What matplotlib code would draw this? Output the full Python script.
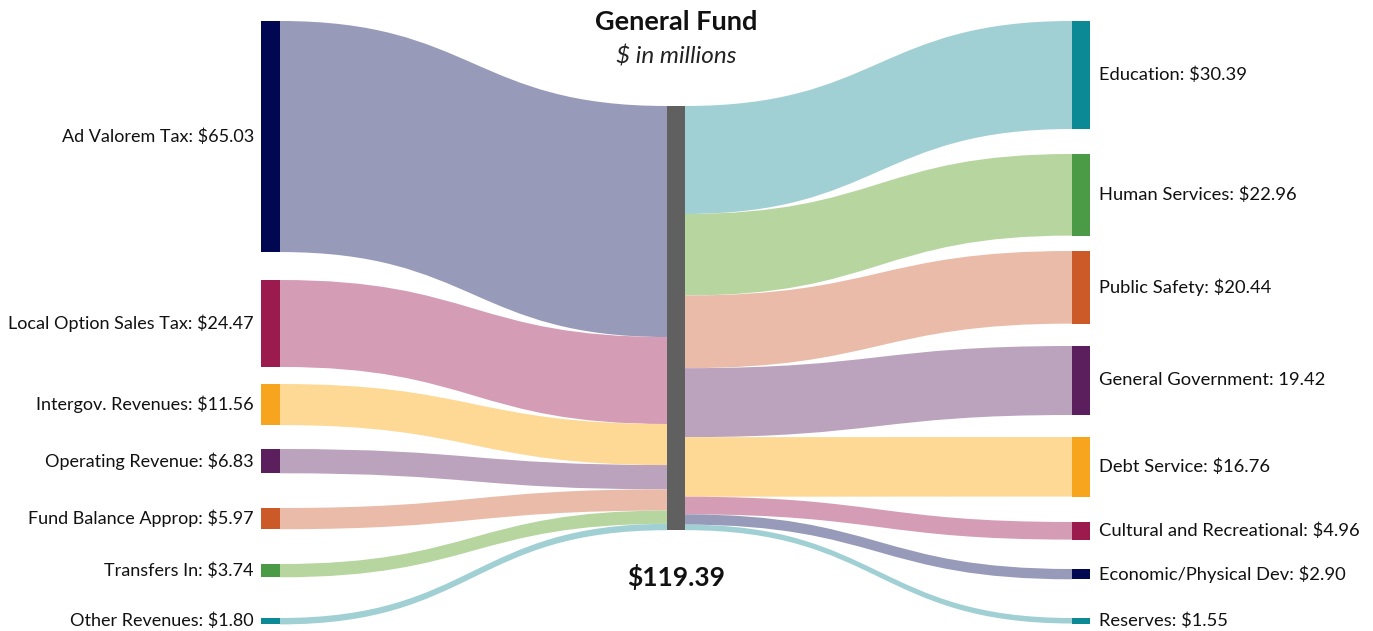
import matplotlib.pyplot as plt
from matplotlib.path import Path
from matplotlib.patches import PathPatch, Rectangle

# Data ($ in millions)
sources = ["Ad Valorem Tax", "Local Option Sales Tax", "Intergov. Revenues",
           "Operating Revenue", "Fund Balance Approp", "Transfers In", "Other Revenues"]
source_values = [65.03, 24.47, 11.56, 6.83, 5.97, 3.74, 1.80]

uses = ["Education", "Human Services", "Public Safety", "General Government",
        "Debt Service", "Cultural and Recreational", "Economic/Physical Dev", "Reserves"]
use_values = [30.39, 22.96, 20.44, 19.42, 16.76, 4.96, 2.90, 1.55]
use_labels = ["Education: $30.39", "Human Services: $22.96", "Public Safety: $20.44",
              "General Government: 19.42", "Debt Service: $16.76",
              "Cultural and Recreational: $4.96", "Economic/Physical Dev: $2.90",
              "Reserves: $1.55"]
total = 119.39

# colours (node, flow)
src_dark = ["#020751", "#9b1b4f", "#f7a51f", "#5a1f5c", "#cc5a29", "#4b9a45", "#0b8a96"]
src_light = ["#979ab8", "#d59cb5", "#fdd995", "#bba3bd", "#e9bba8", "#b7d59f", "#a0cfd4"]
use_dark = ["#0b8a96", "#4b9a45", "#cc5a29", "#5a1f5c", "#f7a51f", "#9b1b4f", "#020751", "#0b8a96"]
use_light = ["#a0cfd4", "#b7d59f", "#e9bba8", "#bba3bd", "#fdd995", "#d59cb5", "#979ab8", "#a0cfd4"]

# layout in pixel space
W, H = 1373, 631
scale = 3.553  # px per $M
src_tops = [21, 280, 384, 449, 508, 564, 618]
use_tops = [21, 154, 251, 346, 437, 522, 569, 618]
left_x0, left_x1 = 261, 280
mid_x0, mid_x1 = 667, 685
right_x0, right_x1 = 1072, 1090
mid_top = 106


def flow(ax, xa, ya, xb, yb, h, color):
    xm = (xa + xb) / 2
    verts = [(xa, ya), (xm, ya), (xm, yb), (xb, yb),
             (xb, yb + h), (xm, yb + h), (xm, ya + h), (xa, ya + h), (xa, ya)]
    codes = [Path.MOVETO, Path.CURVE4, Path.CURVE4, Path.CURVE4,
             Path.LINETO, Path.CURVE4, Path.CURVE4, Path.CURVE4, Path.CLOSEPOLY]
    ax.add_patch(PathPatch(Path(verts, codes), facecolor=color, edgecolor="none", lw=0))


fig = plt.figure(figsize=(W / 100, H / 100), dpi=100)
ax = fig.add_axes([0, 0, 1, 1])
ax.set_xlim(0, W)
ax.set_ylim(H, 0)
ax.axis("off")

font = "Lato"

# left side
y_mid = mid_top
for name, v, top, dk, lt in zip(sources, source_values, src_tops, src_dark, src_light):
    h = v * scale
    flow(ax, left_x1, top, mid_x0, y_mid, h, lt)
    ax.add_patch(Rectangle((left_x0, top), left_x1 - left_x0, h, facecolor=dk, lw=0))
    ax.text(left_x0 - 7, top + h / 2, f"{name}: ${v:.2f}", ha="right", va="center",
            fontsize=13, family=font, color="#111111")
    y_mid += h

# right side
y_mid = mid_top
for lab, v, top, dk, lt in zip(use_labels, use_values, use_tops, use_dark, use_light):
    h = v * scale
    flow(ax, mid_x1, y_mid, right_x0, top, h, lt)
    ax.add_patch(Rectangle((right_x0, top), right_x1 - right_x0, h, facecolor=dk, lw=0))
    ax.text(right_x1 + 9, top + h / 2, lab, ha="left", va="center",
            fontsize=13.2, family=font, color="#111111")
    y_mid += h

# centre node
ax.add_patch(Rectangle((mid_x0, mid_top), mid_x1 - mid_x0, total * scale,
                       facecolor="#606060", lw=0))

cx = (mid_x0 + mid_x1) / 2
ax.text(cx, 22, "General Fund", ha="center", va="center", fontsize=19.5,
        fontweight="bold", family=font, color="#111111")
ax.text(cx, 57, "$ in millions", ha="center", va="center", fontsize=17.5,
        style="italic", family=font, color="#222222")
ax.text(cx, 577, f"${total:.2f}", ha="center", va="center", fontsize=19,
        fontweight="bold", family=font, color="#111111")

fig.savefig("out.png", dpi=100)
